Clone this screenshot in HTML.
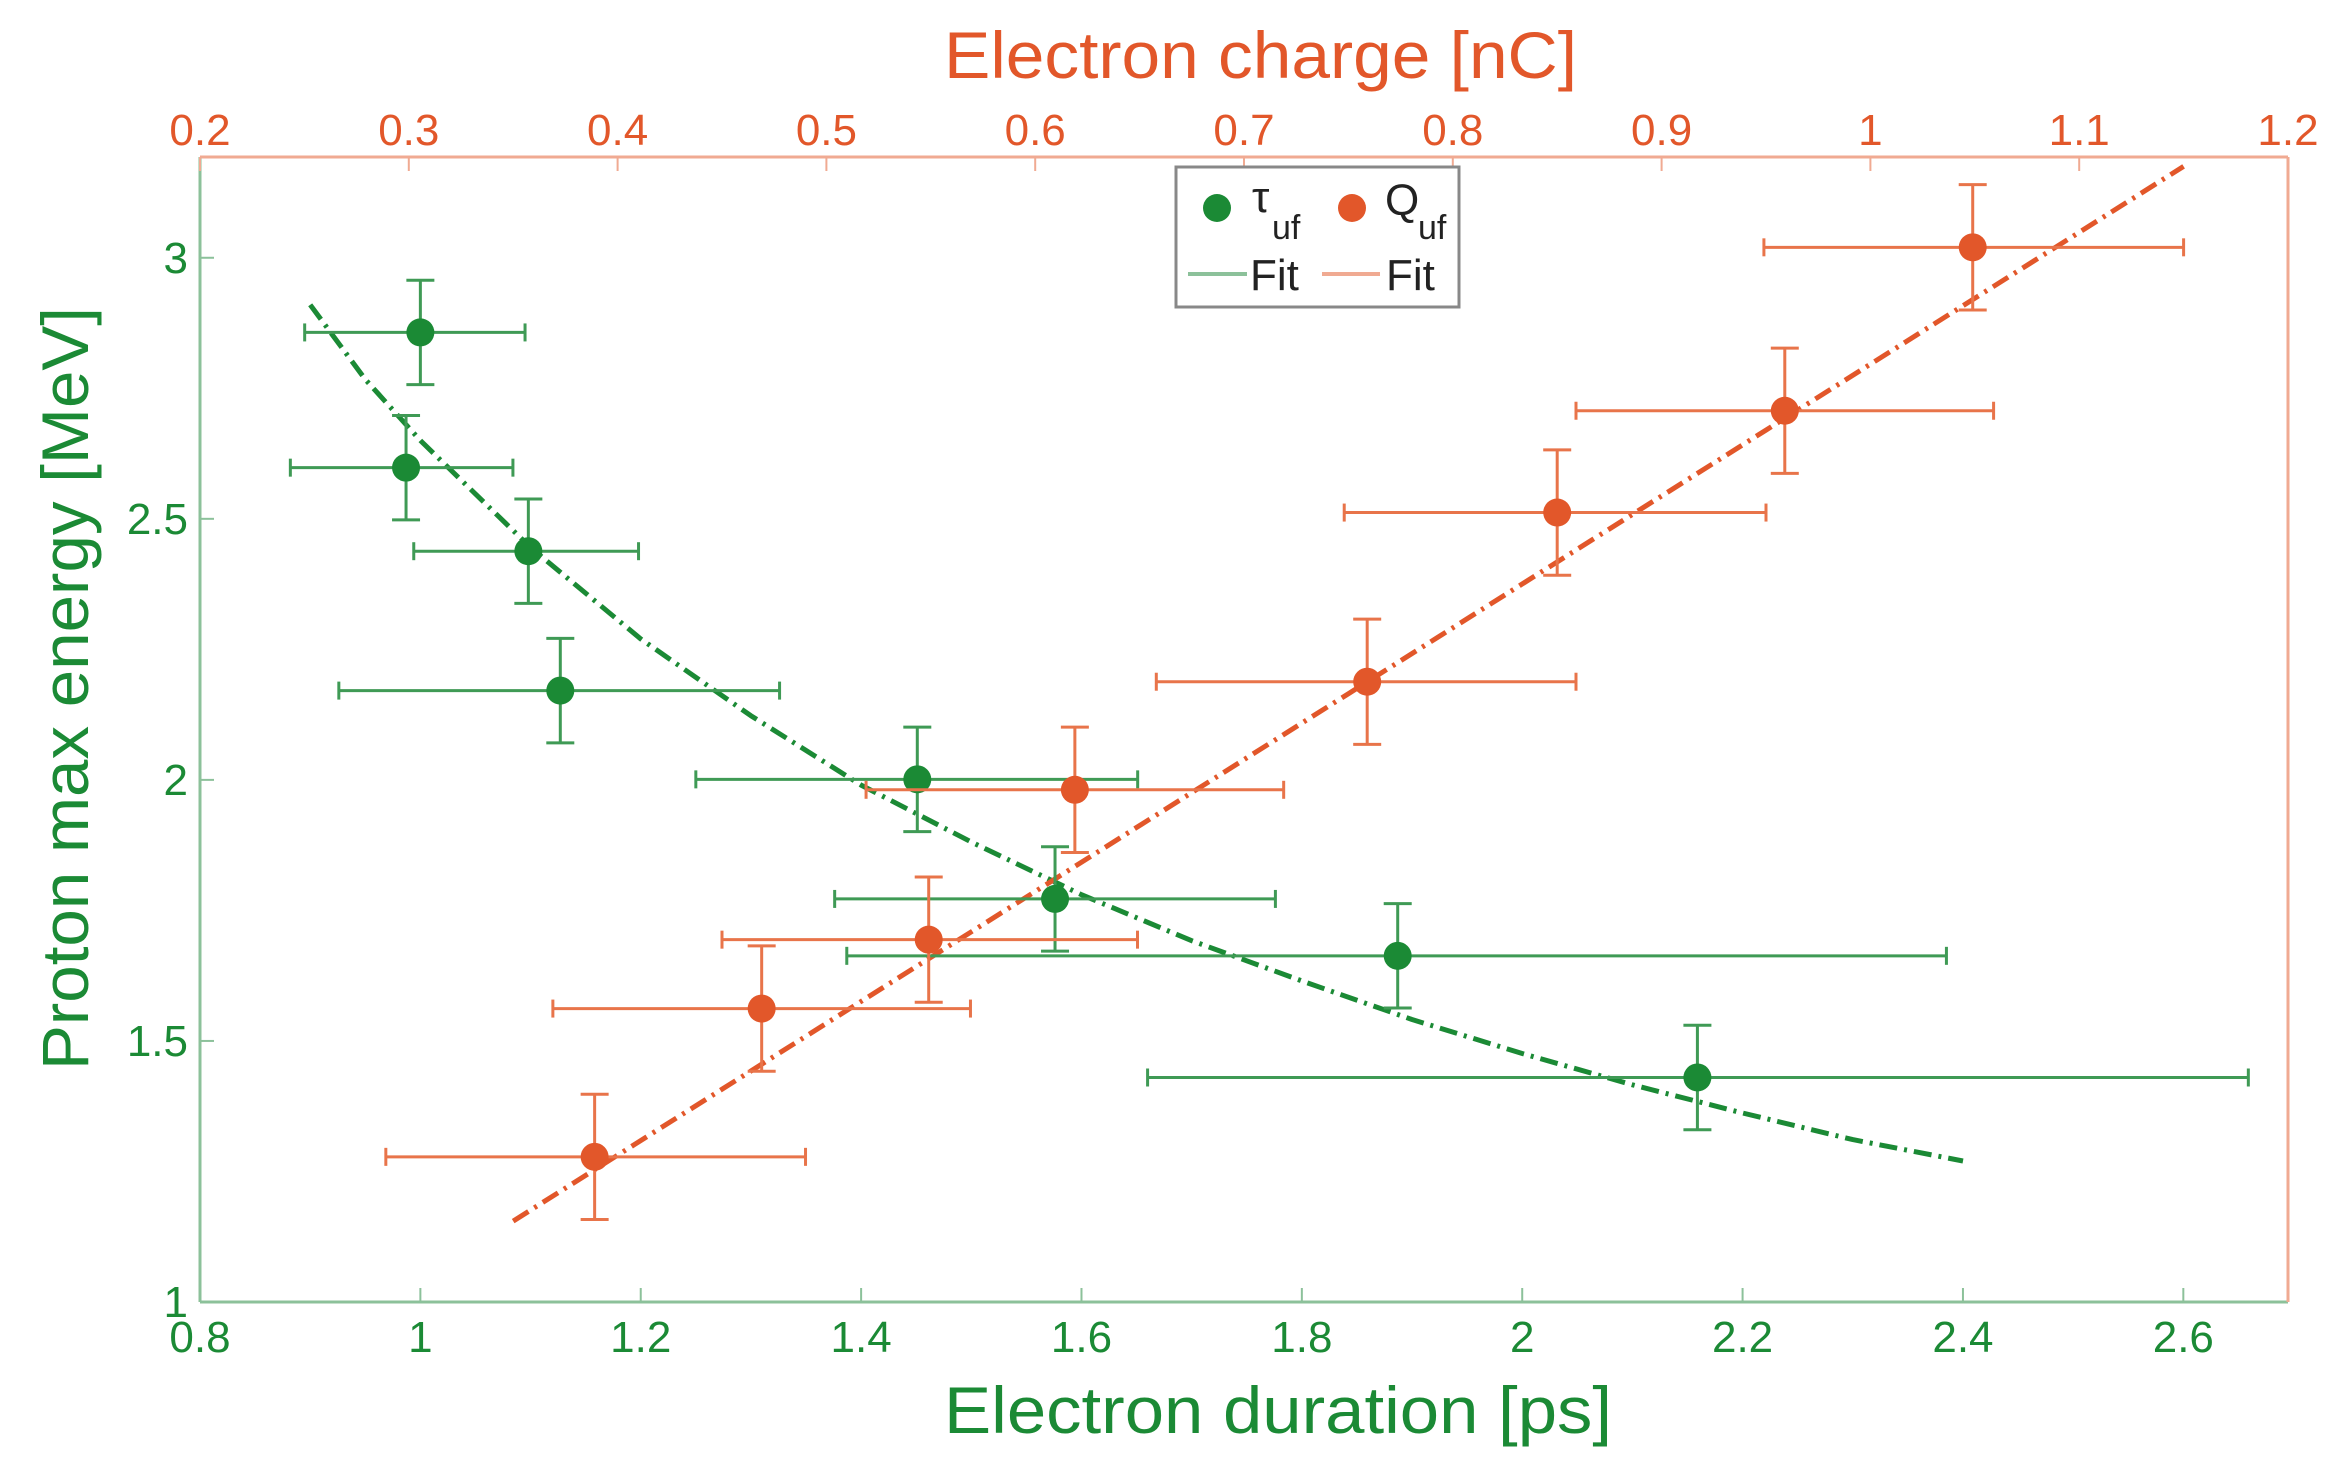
<!DOCTYPE html>
<html><head><meta charset="utf-8"><style>
html,body{margin:0;padding:0;background:#fff;}
svg{display:block;font-family:"Liberation Sans",sans-serif;}
</style></head><body>
<svg id="chart" width="2347" height="1473" viewBox="0 0 2347 1473"></svg>
<script>
// ---- data ----
const tauX = [1.0, 0.987, 1.098, 1.127, 1.451, 1.576, 1.887, 2.159];
const tauY = [2.857, 2.598, 2.438, 2.171, 2.001, 1.772, 1.663, 1.430];
const tauXLo = [0.895, 0.882, 0.994, 0.926, 1.250, 1.376, 1.387, 1.660];
const tauXHi = [1.095, 1.084, 1.198, 1.326, 1.651, 1.776, 2.385, 2.659];
const tauYErr = [0.10, 0.10, 0.10, 0.10, 0.10, 0.10, 0.10, 0.10];
const qX = [0.389, 0.469, 0.549, 0.619, 0.759, 0.850, 0.959, 1.049];
const qY = [1.278, 1.562, 1.694, 1.981, 2.188, 2.512, 2.707, 3.020];
const qXLo = [0.289, 0.369, 0.450, 0.519, 0.658, 0.748, 0.859, 0.949];
const qXHi = [0.490, 0.569, 0.649, 0.719, 0.859, 0.950, 1.059, 1.150];
const qYErr = [0.12, 0.12, 0.12, 0.12, 0.12, 0.12, 0.12, 0.12];
const tauFitX = [0.9, 0.95, 1.0, 1.1, 1.2, 1.3, 1.4, 1.5, 1.6, 1.7, 1.8, 1.9, 2.0, 2.1, 2.2, 2.3, 2.4];
const tauFitY = [2.91, 2.767, 2.65, 2.445, 2.27, 2.123, 1.99, 1.881, 1.78, 1.692, 1.615, 1.541, 1.476, 1.416, 1.362, 1.311, 1.27];
const qFitX = [0.35, 0.55, 0.75, 0.95, 1.15];
const qFitY = [1.155, 1.66, 2.165, 2.67, 3.175];
const bottomTicks = [0.8, 1, 1.2, 1.4, 1.6, 1.8, 2, 2.2, 2.4, 2.6];
const bottomTickLabels = ["0.8","1","1.2","1.4","1.6","1.8","2","2.2","2.4","2.6"];
const topTicks = [0.2,0.3,0.4,0.5,0.6,0.7,0.8,0.9,1,1.1,1.2];
const topTickLabels = ["0.2","0.3","0.4","0.5","0.6","0.7","0.8","0.9","1","1.1","1.2"];
const yTicks = [1, 1.5, 2, 2.5, 3];
const yTickLabels = ["1","1.5","2","2.5","3"];

// ---- layout ----
const L=200,R=2288,T=157,B=1302;
const xMin=0.8,xMax=2.695,qMin=0.2,qMax=1.2,yMin=1,yMax=3.193;
const G="#1b8a35",O="#e2572a",GL="#8cc19a",OL="#f0aa92";
const xs=v=>L+(v-xMin)/(xMax-xMin)*(R-L);
const qs=v=>L+(v-qMin)/(qMax-qMin)*(R-L);
const ys=v=>B-(v-yMin)/(yMax-yMin)*(B-T);
const svg=document.getElementById('chart');
const NS="http://www.w3.org/2000/svg";
function mk(tag,attrs,parent){const e=document.createElementNS(NS,tag);for(const k in attrs)e.setAttribute(k,attrs[k]);(parent||svg).appendChild(e);return e;}

let e;
e=mk('line',{x1:L,y1:B,x2:R,y2:B,stroke:GL,'stroke-width':3});


e=mk('line',{x1:L,y1:T,x2:L,y2:B,stroke:GL,'stroke-width':3});


e=mk('line',{x1:L,y1:T,x2:R,y2:T,stroke:OL,'stroke-width':3});


e=mk('line',{x1:R,y1:T,x2:R,y2:B,stroke:OL,'stroke-width':3});



bottomTicks.forEach((v,i)=>{
  mk('line',{x1:xs(v),y1:B,x2:xs(v),y2:B-14,stroke:GL,'stroke-width':2});
  const t=mk('text',{x:xs(v),y:B+50,'text-anchor':'middle','font-size':44,fill:G});
  t.textContent=bottomTickLabels[i];
  
  
});
topTicks.forEach((v,i)=>{
  mk('line',{x1:qs(v),y1:T,x2:qs(v),y2:T+14,stroke:OL,'stroke-width':2});
  const t=mk('text',{x:qs(v),y:T-12,'text-anchor':'middle','font-size':44,fill:O});
  t.textContent=topTickLabels[i];
  
  
});
yTicks.forEach((v,i)=>{
  mk('line',{x1:L,y1:ys(v),x2:L+14,y2:ys(v),stroke:GL,'stroke-width':2});
  const t=mk('text',{x:L-12,y:ys(v)+15,'text-anchor':'end','font-size':44,fill:G});
  t.textContent=yTickLabels[i];
  
  
});

e=mk('text',{x:944,y:1433,'font-size':66,fill:G,textLength:668,lengthAdjust:'spacingAndGlyphs'});
e.textContent='Electron duration [ps]';


e=mk('text',{x:944,y:78,'font-size':66,fill:O,textLength:633,lengthAdjust:'spacingAndGlyphs'});
e.textContent='Electron charge [nC]';


e=mk('text',{x:0,y:0,'font-size':66,fill:G,textLength:763,lengthAdjust:'spacingAndGlyphs',transform:'translate(88,1070) rotate(-90)'});
e.textContent='Proton max energy [MeV]';



let d=tauFitX.map((v,i)=>(i?'L':'M')+xs(v).toFixed(1)+','+ys(tauFitY[i]).toFixed(1)).join(' ');
e=mk('path',{d:d,fill:'none',stroke:G,'stroke-width':5,'stroke-dasharray':'18 7 3 7','stroke-linejoin':'round'});


d=qFitX.map((v,i)=>(i?'L':'M')+qs(v).toFixed(1)+','+ys(qFitY[i]).toFixed(1)).join(' ');
e=mk('path',{d:d,fill:'none',stroke:O,'stroke-width':5,'stroke-dasharray':'18 7 3 7'});



function series(X,Y,Lo,Hi,Ye,sx,col,lcol,name){
  X.forEach((v,i)=>{
    const g=mk('g',{});
    
    
    const cx=sx(v),cy=ys(Y[i]),x1=sx(Lo[i]),x2=sx(Hi[i]),y1=ys(Y[i]+Ye[i]),y2=ys(Y[i]-Ye[i]);
    const a={stroke:lcol,'stroke-width':3};
    mk('line',Object.assign({x1:x1,y1:cy,x2:x2,y2:cy},a),g);
    mk('line',Object.assign({x1:x1,y1:cy-9,x2:x1,y2:cy+9},a),g);
    mk('line',Object.assign({x1:x2,y1:cy-9,x2:x2,y2:cy+9},a),g);
    mk('line',Object.assign({x1:cx,y1:y1,x2:cx,y2:y2},a),g);
    mk('line',Object.assign({x1:cx-14,y1:y1,x2:cx+14,y2:y1},a),g);
    mk('line',Object.assign({x1:cx-14,y1:y2,x2:cx+14,y2:y2},a),g);
    mk('circle',{cx:cx,cy:cy,r:14,fill:col},g);
  });
}
series(tauX,tauY,tauXLo,tauXHi,tauYErr,xs,G,"#3f9a55",'tau');
series(qX,qY,qXLo,qXHi,qYErr,qs,O,"#e8744a",'q');

const lg=mk('g',{});


mk('rect',{x:1176,y:167,width:283,height:140,fill:'#fff',stroke:'#888','stroke-width':3},lg);
mk('circle',{cx:1217,cy:208,r:14,fill:G},lg);
e=mk('text',{x:1252,y:212,'font-size':44,fill:'#222'},lg);e.textContent='τ';
e=mk('text',{x:1272,y:239,'font-size':34,fill:'#222'},lg);e.textContent='uf';
mk('circle',{cx:1352,cy:208,r:14,fill:O},lg);
e=mk('text',{x:1385,y:215,'font-size':44,fill:'#222'},lg);e.textContent='Q';
e=mk('text',{x:1418,y:239,'font-size':34,fill:'#222'},lg);e.textContent='uf';
mk('line',{x1:1188,y1:274,x2:1247,y2:274,stroke:GL,'stroke-width':4},lg);
e=mk('text',{x:1250,y:290,'font-size':44,fill:'#222'},lg);e.textContent='Fit';
mk('line',{x1:1322,y1:274,x2:1380,y2:274,stroke:OL,'stroke-width':4},lg);
e=mk('text',{x:1386,y:290,'font-size':44,fill:'#222'},lg);e.textContent='Fit';
</script>
</body></html>
